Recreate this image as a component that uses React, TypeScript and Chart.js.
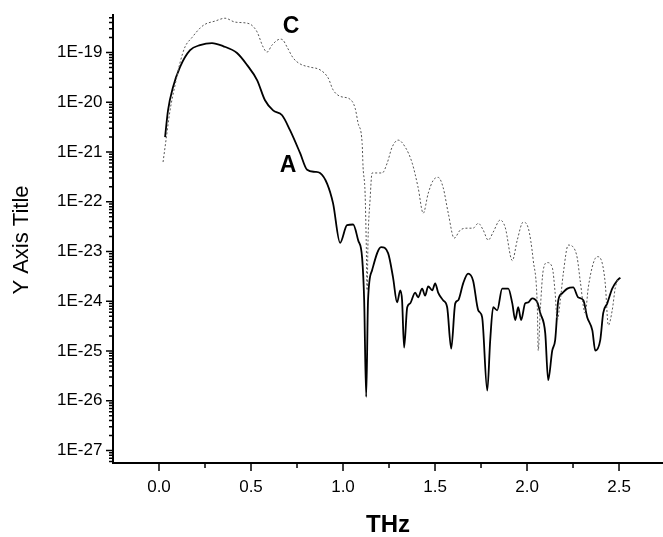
import React, { useEffect, useRef } from 'react';
import { Chart, registerables } from 'chart.js';

Chart.register(...registerables);

// Curve A (solid)
const aTHz = [0.033, 0.049, 0.076, 0.114, 0.169, 0.223, 0.288, 0.348, 0.424, 0.479, 0.533, 0.576, 0.620, 0.669, 0.712, 0.767, 0.805, 0.848, 0.875, 0.914, 0.946, 0.984, 1.022, 1.055, 1.082, 1.104, 1.115, 1.126, 1.136, 1.158, 1.207, 1.245, 1.272, 1.294, 1.311, 1.321, 1.332, 1.349, 1.365, 1.392, 1.408, 1.430, 1.446, 1.463, 1.485, 1.501, 1.517, 1.544, 1.566, 1.588, 1.610, 1.626, 1.653, 1.680, 1.707, 1.735, 1.756, 1.784, 1.800, 1.816, 1.838, 1.865, 1.898, 1.920, 1.936, 1.952, 1.968, 1.990, 2.007, 2.028, 2.056, 2.072, 2.099, 2.115, 2.137, 2.153, 2.170, 2.191, 2.219, 2.251, 2.278, 2.306, 2.327, 2.355, 2.371, 2.398, 2.414, 2.436, 2.463, 2.490, 2.507];
const aAmp = [2.0e-21, 6.9e-21, 2.0e-20, 5.1e-20, 1.12e-19, 1.41e-19, 1.55e-19, 1.35e-19, 9.8e-20, 5.6e-20, 2.8e-20, 1.1e-20, 6.9e-21, 5.5e-21, 2.75e-21, 9.5e-22, 4.4e-22, 4.0e-22, 3.8e-22, 2.3e-22, 9.3e-23, 1.5e-23, 3.4e-23, 3.5e-23, 1.7e-23, 7.4e-24, 1.05e-24, 1.2e-26, 1.05e-24, 4.2e-24, 1.23e-23, 9.3e-24, 3.0e-24, 9.5e-25, 1.66e-24, 1.05e-24, 1.17e-25, 7.6e-25, 9.1e-25, 1.5e-24, 1.2e-24, 1.8e-24, 1.3e-24, 2.0e-24, 1.66e-24, 2.3e-24, 1.5e-24, 1.05e-24, 7.6e-25, 1.12e-25, 9.1e-25, 1.05e-24, 2.3e-24, 3.6e-24, 2.6e-24, 6.6e-25, 4.8e-25, 1.6e-26, 1.66e-25, 7.6e-25, 6.6e-25, 1.8e-24, 1.8e-24, 9.1e-25, 4.2e-25, 7.6e-25, 4.2e-25, 9.1e-25, 9.5e-25, 1.15e-24, 9.5e-25, 5.8e-25, 2.3e-25, 2.6e-26, 1.02e-25, 1.66e-25, 1.05e-24, 1.45e-24, 1.8e-24, 1.9e-24, 1.2e-24, 1.05e-24, 4.8e-25, 2.6e-25, 1.02e-25, 1.66e-25, 5.8e-25, 9.1e-25, 1.8e-24, 2.6e-24, 3.0e-24];

// Curve C (dotted)
const cTHz = [0.022, 0.038, 0.060, 0.087, 0.114, 0.141, 0.179, 0.223, 0.250, 0.305, 0.359, 0.413, 0.479, 0.506, 0.533, 0.566, 0.587, 0.614, 0.658, 0.674, 0.696, 0.729, 0.767, 0.821, 0.875, 0.919, 0.946, 0.984, 1.039, 1.066, 1.082, 1.104, 1.109, 1.120, 1.126, 1.131, 1.136, 1.147, 1.158, 1.185, 1.213, 1.240, 1.267, 1.300, 1.338, 1.376, 1.408, 1.436, 1.463, 1.490, 1.517, 1.544, 1.572, 1.604, 1.637, 1.675, 1.707, 1.735, 1.762, 1.789, 1.816, 1.854, 1.881, 1.920, 1.947, 1.979, 2.007, 2.034, 2.056, 2.061, 2.072, 2.088, 2.110, 2.137, 2.153, 2.164, 2.181, 2.197, 2.224, 2.251, 2.273, 2.289, 2.316, 2.333, 2.360, 2.382, 2.409, 2.425, 2.442, 2.463, 2.480, 2.496];
const cAmp = [6.3e-22, 1.74e-21, 6.9e-21, 2.2e-20, 6.2e-20, 1.29e-19, 2.0e-19, 3.1e-19, 3.7e-19, 4.3e-19, 4.9e-19, 4.1e-19, 3.9e-19, 3.5e-19, 2.6e-19, 1.29e-19, 1.02e-19, 1.41e-19, 1.86e-19, 1.78e-19, 1.29e-19, 7.8e-20, 5.9e-20, 5.1e-20, 4.5e-20, 3.1e-20, 1.78e-20, 1.32e-20, 1.15e-20, 7.6e-21, 3.8e-21, 1.5e-21, 5.0e-22, 1.48e-22, 1.7e-23, 1.66e-24, 1.7e-23, 1.1e-22, 3.8e-22, 3.8e-22, 3.8e-22, 6.0e-22, 1.26e-21, 1.74e-21, 1.26e-21, 6.0e-22, 1.95e-22, 5.9e-23, 1.48e-22, 2.7e-22, 3.1e-22, 1.95e-22, 5.9e-23, 1.86e-23, 2.7e-23, 2.95e-23, 2.95e-23, 3.7e-23, 2.7e-23, 1.7e-23, 2.45e-23, 4.3e-23, 3.1e-23, 6.6e-24, 1.7e-23, 3.9e-23, 2.95e-23, 6.6e-24, 7.6e-25, 1.02e-25, 6.6e-25, 4.2e-24, 6.0e-24, 4.8e-24, 1.45e-24, 4.2e-25, 1.05e-24, 3.6e-24, 1.35e-23, 1.23e-23, 7.4e-24, 2.6e-24, 5.8e-25, 1.9e-24, 5.8e-24, 7.9e-24, 5.8e-24, 2.3e-24, 3.3e-25, 6.6e-25, 1.9e-24, 2.9e-24];

// Axes
const xMajorTicks = [0, 0.5, 1.0, 1.5, 2.0, 2.5];
const xMinorTicks = [0.25, 0.75, 1.25, 1.75, 2.25];
const yDecadeExps = [-19, -20, -21, -22, -23, -24, -25, -26, -27];
const xMin = -0.25;
const xMax = 2.739;
const yMin = 5.62e-28;
const yMax = 5.69e-19;

const FONT = "'Liberation Sans', Arial, Helvetica, sans-serif";

const decorPlugin = {
  id: 'decor',
  afterDraw(chart: any) {
    const { ctx, chartArea, scales } = chart;
    const x = scales.x;
    const y = scales.y;
    ctx.save();
    ctx.strokeStyle = '#000';
    ctx.lineWidth = 1.5;
    ctx.beginPath();
    xMajorTicks.forEach((v) => {
      const p = x.getPixelForValue(v);
      ctx.moveTo(p, chartArea.bottom);
      ctx.lineTo(p, chartArea.bottom + 8);
    });
    xMinorTicks.forEach((v) => {
      const p = x.getPixelForValue(v);
      ctx.moveTo(p, chartArea.bottom);
      ctx.lineTo(p, chartArea.bottom + 5);
    });
    yDecadeExps.forEach((e) => {
      const p = y.getPixelForValue(Math.pow(10, e));
      ctx.moveTo(chartArea.left, p);
      ctx.lineTo(chartArea.left - 7, p);
    });
    for (let e = -28; e <= -19; e++) {
      for (let m = 2; m <= 9; m++) {
        const v = m * Math.pow(10, e);
        if (v <= yMin || v >= yMax) continue;
        const p = y.getPixelForValue(v);
        ctx.moveTo(chartArea.left, p);
        ctx.lineTo(chartArea.left - 4, p);
      }
    }
    ctx.stroke();

    ctx.fillStyle = '#000';
    ctx.textAlign = 'center';
    ctx.textBaseline = 'middle';
    ctx.font = `bold 24px ${FONT}`;
    ctx.fillText('THz', (chartArea.left + chartArea.right) / 2, 525);
    ctx.font = `bold 23px ${FONT}`;
    ctx.fillText('A', 288, 166);
    ctx.fillText('C', 291, 27);
    ctx.save();
    ctx.translate(22, 240);
    ctx.rotate(-Math.PI / 2);
    ctx.font = `22px ${FONT}`;
    ctx.fillText('Y Axis Title', 0, 0);
    ctx.restore();
    ctx.restore();
  },
};

export default function App() {
  const ref = useRef<HTMLCanvasElement | null>(null);

  useEffect(() => {
    if (!ref.current) return;
    const chart = new Chart(ref.current, {
      type: 'line',
      data: {
        datasets: [
          {
            label: 'C',
            data: cTHz.map((t, i) => ({ x: t, y: cAmp[i] })),
            borderColor: '#555',
            borderWidth: 1,
            borderDash: [2, 2],
            pointRadius: 0,
            cubicInterpolationMode: 'monotone',
            fill: false,
          },
          {
            label: 'A',
            data: aTHz.map((t, i) => ({ x: t, y: aAmp[i] })),
            borderColor: '#000',
            borderWidth: 1.8,
            pointRadius: 0,
            cubicInterpolationMode: 'monotone',
            fill: false,
          },
        ],
      },
      options: {
        animation: false,
        responsive: false,
        devicePixelRatio: 1,
        layout: { padding: { top: 15, left: 57, right: 0, bottom: 0 } },
        plugins: { legend: { display: false }, tooltip: { enabled: false }, title: { display: false } },
        scales: {
          x: {
            type: 'linear',
            min: xMin,
            max: xMax,
            grid: { display: false, drawTicks: false },
            border: { display: true, color: '#000', width: 2 },
            afterBuildTicks: (axis: any) => {
              axis.ticks = xMajorTicks.map((v) => ({ value: v }));
            },
            afterFit: (axis: any) => {
              axis.height = 74;
            },
            ticks: {
              padding: 14,
              color: '#000',
              font: { family: FONT, size: 17 },
              maxRotation: 0,
              callback: (v: any) => Number(v).toFixed(1),
            },
          },
          y: {
            type: 'logarithmic',
            min: yMin,
            max: yMax,
            grid: { display: false, drawTicks: false },
            border: { display: true, color: '#000', width: 2 },
            afterBuildTicks: (axis: any) => {
              axis.ticks = yDecadeExps.map((e) => ({ value: Math.pow(10, e) }));
            },
            afterFit: (axis: any) => {
              axis.width = 56;
            },
            ticks: {
              padding: 0,
              crossAlign: 'far',
              color: '#000',
              font: { family: FONT, size: 17 },
              callback: (v: any) => '1E' + Math.round(Math.log10(Number(v))),
            },
          },
        },
      },
      plugins: [decorPlugin],
    } as any);
    return () => chart.destroy();
  }, []);

  return (
    <div style={{ position: 'absolute', left: 0, top: 0, width: 663, height: 537, background: '#fff' }}>
      <canvas ref={ref} width={663} height={537} style={{ width: 663, height: 537, display: 'block' }} />
    </div>
  );
}
